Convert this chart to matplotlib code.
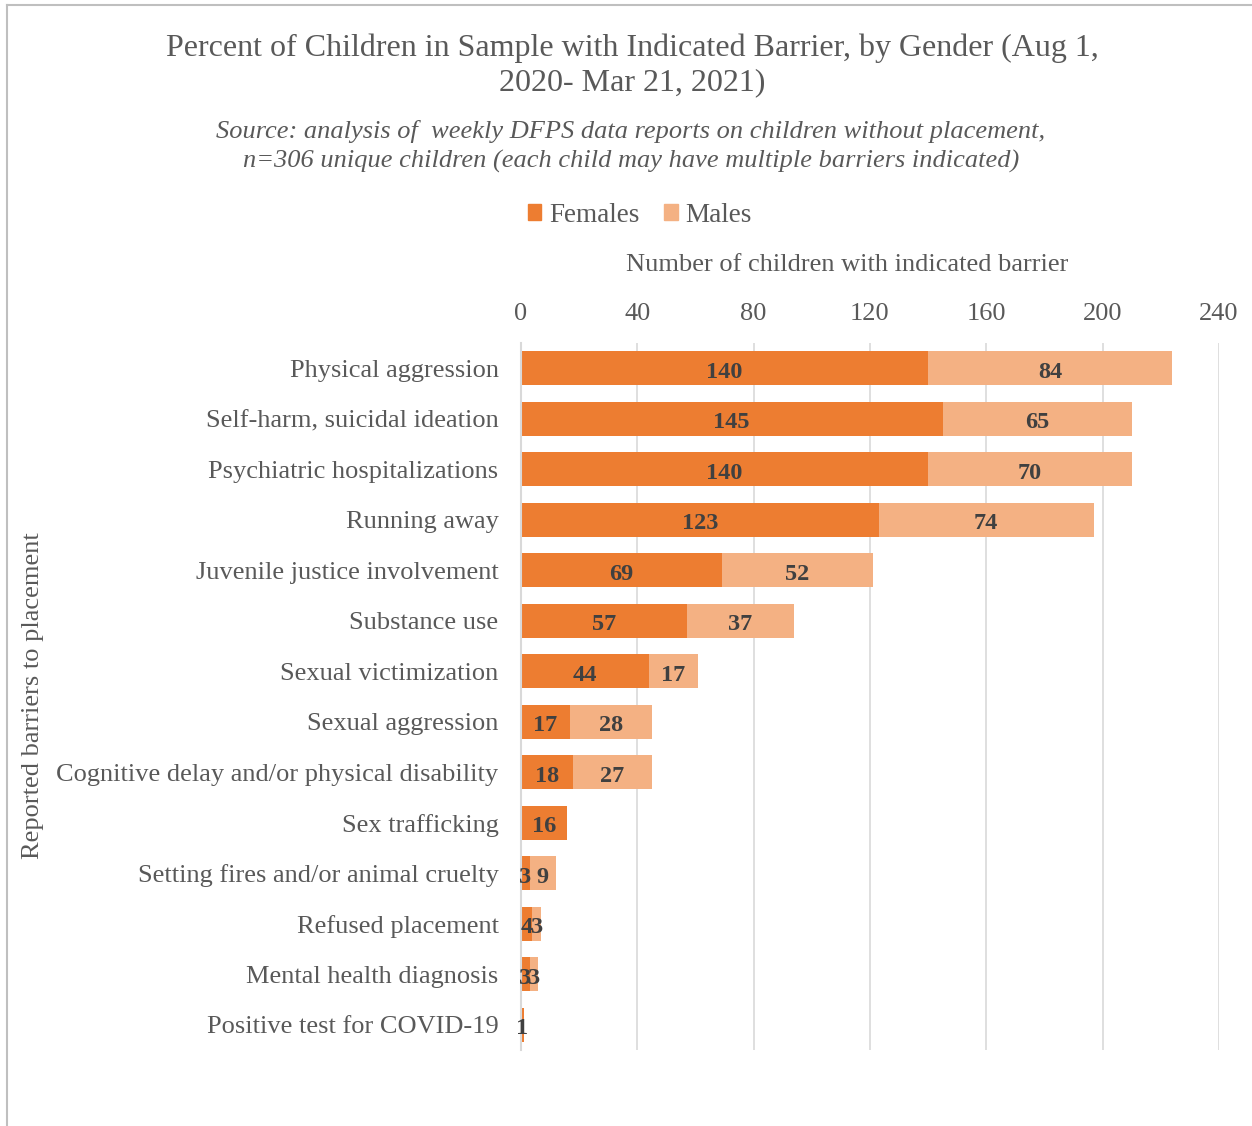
import matplotlib.pyplot as plt
from matplotlib.lines import Line2D
from matplotlib.patches import Patch

plt.rcParams['font.family'] = ['Liberation Serif', 'DejaVu Serif']

categories = ["Physical aggression", "Self-harm, suicidal ideation",
              "Psychiatric hospitalizations", "Running away",
              "Juvenile justice involvement", "Substance use",
              "Sexual victimization", "Sexual aggression",
              "Cognitive delay and/or physical disability", "Sex trafficking",
              "Setting fires and/or animal cruelty", "Refused placement",
              "Mental health diagnosis", "Positive test for COVID-19"]
females = [140, 145, 140, 123, 69, 57, 44, 17, 18, 16, 3, 4, 3, 1]
males = [84, 65, 70, 74, 52, 37, 17, 28, 27, 0, 9, 3, 3, 0]
xticks = [0, 40, 80, 120, 160, 200, 240]

c_fem = '#ED7D31'
c_male = '#F4B183'
grey = '#595959'

fig = plt.figure(figsize=(12.52, 11.26), dpi=100)
ax = fig.add_axes([0.416, 0.0675, 0.5576, 0.628])

y = list(range(len(categories)))
ax.barh(y, females, height=0.67, color=c_fem, zorder=3)
ax.barh(y, males, left=females, height=0.67, color=c_male, zorder=3)

# value labels (small segments overlap, as in the original)
for i in y:
    if females[i]:
        ax.text(females[i] / 2, i + 0.03, str(females[i]), ha='center',
                va='center_baseline', fontsize=17.5, fontweight='bold',
                color='#404040', zorder=6)
    if males[i]:
        ax.text(females[i] + males[i] / 2, i + 0.03, str(males[i]), ha='center',
                va='center_baseline', fontsize=17.5, fontweight='bold',
                color='#404040', zorder=6)

ax.set_xlim(0, 240)
ax.set_ylim(13.5, -0.5)
ax.set_yticks(y)
ax.set_yticklabels(categories, fontsize=19, color=grey)
ax.set_xticks(xticks)
ax.set_xticklabels([str(t) for t in xticks], fontsize=19, color=grey)
ax.xaxis.tick_top()
ax.tick_params(axis='both', length=0)
ax.tick_params(axis='x', pad=13)
ax.tick_params(axis='y', pad=16)
ax.grid(axis='x', color='#D9D9D9', linewidth=1.2, zorder=0)
for s in ['top', 'right', 'bottom']:
    ax.spines[s].set_visible(False)
ax.spines['left'].set_color('#D9D9D9')
ax.spines['left'].set_linewidth(1.5)
ax.spines['left'].set_zorder(5)

fig.text(0.026, 0.382, "Reported barriers to placement", rotation=90,
         ha='center', va='center', fontsize=19, color=grey)
fig.text(0.677, 0.765, "Number of children with indicated barrier",
         ha='center', va='center', fontsize=19, color=grey)

fig.text(0.505, 0.942, "Percent of Children in Sample with Indicated Barrier, by Gender (Aug 1,\n2020- Mar 21, 2021)",
         ha='center', va='center', fontsize=23, color=grey, linespacing=1.22)
fig.text(0.504, 0.870, "Source: analysis of  weekly DFPS data reports on children without placement,\nn=306 unique children (each child may have multiple barriers indicated)",
         ha='center', va='center', fontsize=19, color=grey, style='italic',
         linespacing=1.4)

handles = [Patch(color=c_fem, label='Females'), Patch(color=c_male, label='Males')]
fig.legend(handles=handles, loc='center', bbox_to_anchor=(0.511, 0.809), ncol=2,
           frameon=False, fontsize=19.5, labelcolor=grey, handlelength=0.5,
           handleheight=0.5, handletextpad=0.3, columnspacing=0.9)

# outer chart border (top and left edges visible)
fig.add_artist(Line2D([0.0055, 1.0], [0.9955, 0.9955], color='#BFBFBF', linewidth=1.5))
fig.add_artist(Line2D([0.0055, 0.0055], [0.0, 0.9955], color='#BFBFBF', linewidth=1.5))

fig.savefig('out.png', dpi=100)
